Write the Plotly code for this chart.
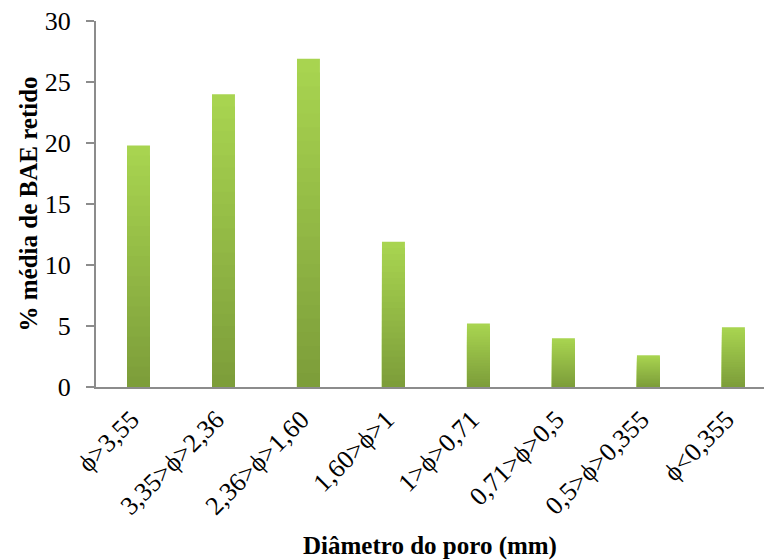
import plotly.graph_objects as go

# Pore-size classes (mm) and mean retained BAE percentage
categorias = ["ϕ>3,55", "3,35>ϕ>2,36", "2,36>ϕ>1,60", "1,60>ϕ>1",
              "1>ϕ>0,71", "0,71>ϕ>0,5", "0,5>ϕ>0,355", "ϕ<0,355"]
bae_retido = [19.8, 24.0, 26.9, 11.9, 5.2, 4.0, 2.6, 4.9]

y_ticks = [0, 5, 10, 15, 20, 25, 30]

# Vertical gradient per bar: light green on top fading to olive green at base,
# built from overlaid bars of decreasing height.
top_rgb = (168, 212, 80)
bottom_rgb = (125, 158, 58)
n_steps = 24

fig = go.Figure()
for k in range(n_steps):
    frac = 1 - k / n_steps
    t = k / (n_steps - 1)
    r = round(top_rgb[0] + (bottom_rgb[0] - top_rgb[0]) * t)
    g = round(top_rgb[1] + (bottom_rgb[1] - top_rgb[1]) * t)
    b = round(top_rgb[2] + (bottom_rgb[2] - top_rgb[2]) * t)
    fig.add_trace(go.Bar(
        x=categorias,
        y=[v * frac for v in bae_retido],
        width=0.27,
        marker=dict(color=f"rgb({r},{g},{b})", line=dict(width=0)),
        hoverinfo="skip" if k else None,
        showlegend=False,
    ))

fig.update_layout(
    width=764, height=560,
    margin=dict(l=96, r=0, t=21, b=173),
    paper_bgcolor="white", plot_bgcolor="white",
    barmode="overlay",
    font=dict(family="Liberation Serif, Times New Roman, serif", color="black"),
    xaxis=dict(
        range=[-0.5, 7.36],
        showline=True, linecolor="#8c8c8c", linewidth=2,
        ticks="", tickangle=-45,
        tickfont=dict(size=26),
        ticklabelshift=-7, ticklabelstandoff=5,
        showgrid=False,
        title=dict(text="<b>Diâmetro do poro (mm)</b>", font=dict(size=25), standoff=20),
    ),
    yaxis=dict(
        range=[0, 30], tickvals=y_ticks,
        showline=True, linecolor="#8c8c8c", linewidth=2,
        ticks="outside", ticklen=8, tickcolor="#8c8c8c", tickwidth=2,
        tickfont=dict(size=26),
        ticklabelstandoff=10,
        showgrid=False, zeroline=False,
        title=dict(text="<b>% média de BAE retido</b>", font=dict(size=25), standoff=0),
    ),
)

fig.write_html("out.html")
